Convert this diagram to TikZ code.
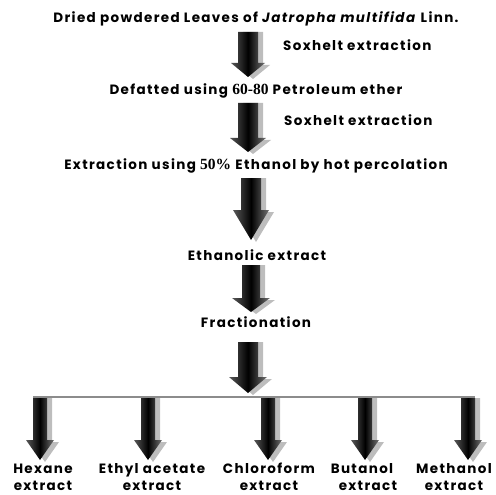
\documentclass[tikz,border=0pt]{standalone}
\usepackage{fontspec}
\setmainfont{Poppins}[LetterSpace=10]
\newfontfamily\numfont{Liberation Serif}[Scale=1.15]
\usetikzlibrary{calc}

\definecolor{shadowGray}{HTML}{BDBDBD}
\definecolor{lineGray}{HTML}{8C8C8C}

\tikzset{
  steptext/.style={font=\fontsize{13.5}{16}\selectfont\bfseries, inner sep=1pt},
  sidetext/.style={steptext, anchor=west},
  leaftext/.style={steptext, align=center},
  arrowshade/.style={left color=black!65, right color=black!55, middle color=black},
  arrowshadow/.style={fill=shadowGray}
}

% block arrow: #1 top, #2 tip, #3 body half width, #4 head half width, #5 head length
\newcommand{\blockarrow}[5]{%
  \path let \p1=(#1), \p2=(#2) in
    [arrowshadow] (\x1-#3+5pt,\y1) -- (\x1+#3+5pt,\y1) -- (\x1+#3+5pt,\y2+#5-2pt)
      -- (\x1+#4+5pt,\y2+#5-2pt) -- (\x1+5pt,\y2-2pt) -- (\x1-#4+5pt,\y2+#5-2pt)
      -- (\x1-#3+5pt,\y2+#5-2pt) -- cycle;
  \path let \p1=(#1), \p2=(#2) in
    [arrowshade] (\x1-#3,\y1) -- (\x1+#3,\y1) -- (\x1+#3,\y2+#5)
      -- (\x1+#4,\y2+#5) -- (\x1,\y2) -- (\x1-#4,\y2+#5)
      -- (\x1-#3,\y2+#5) -- cycle;
}

\begin{document}
\begin{tikzpicture}[x=1pt, y=-1pt]
    \useasboundingbox (0,0) rectangle (496,495);
    % Main steps
    \node[steptext] (leaves) at (256,19) {Dried powdered Leaves of \textit{Jatropha multifida} Linn.};
    \node[sidetext] (soxA) at (282,45) {Soxhelt extraction};
    \node[steptext] (defat) at (256,91) {Defatted using {\numfont 60-80} Petroleum ether};
    \node[sidetext] (soxB) at (283,120) {Soxhelt extraction};
    \node[steptext] (percol) at (256,166) {Extraction using {\numfont 50\%} Ethanol by hot percolation};
    \node[steptext] (ethanolic) at (257,255) {Ethanolic extract};
    \node[steptext] (fraction) at (256,322) {Fractionation};
    % Arrow ends
    \coordinate (a1top) at (248,32);  \coordinate (a1tip) at (248,77);
    \coordinate (a2top) at (248,103); \coordinate (a2tip) at (248,152);
    \coordinate (a3top) at (251,178); \coordinate (a3tip) at (251,240);
    \coordinate (a4top) at (251,265); \coordinate (a4tip) at (251,312);
    \coordinate (a5top) at (248,342); \coordinate (a5tip) at (248,393);
    \blockarrow{a1top}{a1tip}{10pt}{17pt}{14pt}
    \blockarrow{a2top}{a2tip}{10pt}{18pt}{14pt}
    \blockarrow{a3top}{a3tip}{10pt}{18pt}{30pt}
    \blockarrow{a4top}{a4tip}{9pt}{19pt}{14pt}
    \blockarrow{a5top}{a5tip}{10pt}{19pt}{16pt}
    % Branch line
    \coordinate (branchL) at (33,397);
    \coordinate (branchR) at (475,397);
    \draw[lineGray, line width=1.3pt] (branchL) -- (branchR);
    % Fractions
    \foreach \name/\xpos in {hexane/40, ethyl/148, chloro/268, butanol/365, methanol/468} {
      \coordinate (\name top) at (\xpos,398);
      \coordinate (\name tip) at (\xpos,460);
      \blockarrow{\name top}{\name tip}{7pt}{14pt}{20pt}
    }
    \node[leaftext] (hexane) at (43,477) {Hexane\\[1pt]extract};
    \node[leaftext] (ethyl) at (152,477) {Ethyl acetate\\[1pt]extract};
    \node[leaftext] (chloro) at (269,477) {Chloroform\\[1pt]extract};
    \node[leaftext] (butanol) at (362,477) {Butanol\\[1pt]\hspace*{12pt}extract};
    \node[leaftext] (methanol) at (454,477) {Methanol\\[1pt]extract};
\end{tikzpicture}
\end{document}
